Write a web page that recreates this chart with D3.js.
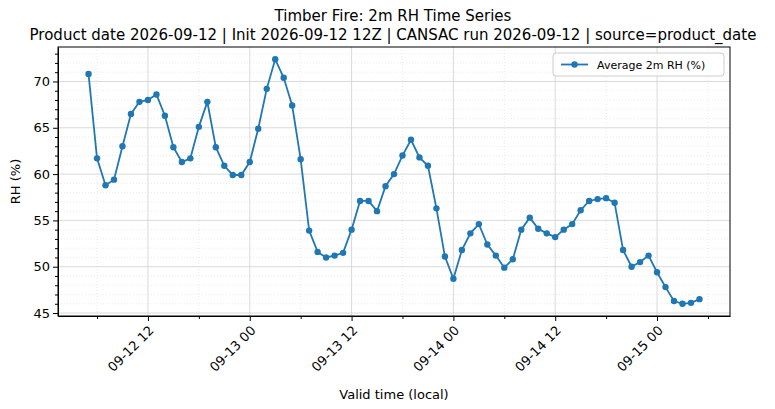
<!DOCTYPE html>
<html><head><meta charset="utf-8">
<script src="https://cdn.jsdelivr.net/npm/d3@7"></script>
<style>body{margin:0;background:#fff}text{font-family:"DejaVu Sans",sans-serif}</style>
</head><body>
<svg width="775" height="409"></svg>
<script>
const startTime = "2026-09-12T05:00";
const rhValues = [
  70.8,61.7,58.8,59.4,63.0,66.5,67.8,68.0,68.6,66.3,
  62.9,61.3,61.7,65.1,67.8,62.9,60.9,59.9,59.9,61.3,
  64.9,69.2,72.4,70.4,67.4,61.6,53.9,51.6,51.0,51.2,
  51.5,54.0,57.1,57.1,56.0,58.7,60.0,62.0,63.7,61.8,
  60.9,56.3,51.1,48.7,51.8,53.6,54.6,52.4,51.2,49.9,
  50.8,54.0,55.3,54.1,53.6,53.2,54.0,54.6,56.1,57.1,
  57.3,57.4,56.9,51.8,50.0,50.5,51.2,49.4,47.8,46.3,
  46.0,46.1,46.5
];
const yTicks = [45, 50, 55, 60, 65, 70];
const titleLines = ["Timber Fire: 2m RH Time Series",
  "Product date 2026-09-12 | Init 2026-09-12 12Z | CANSAC run 2026-09-12 | source=product_date"];

const t0 = new Date(startTime);
const data = rhValues.map((v, i) => ({ t: d3.timeHour.offset(t0, i), v }));

const svg = d3.select("svg"),
    margin = {top: 47, right: 45, bottom: 93, left: 58},
    width = 775 - margin.left - margin.right,
    height = 409 - margin.top - margin.bottom,
    g = svg.append("g").attr("transform", "translate(" + margin.left + "," + margin.top + ")");

const tExt = d3.extent(data, d => d.t), span = tExt[1] - tExt[0];
const x = d3.scaleTime()
    .domain([new Date(+tExt[0] - span * 0.05), new Date(+tExt[1] + span * 0.05)])
    .range([0, width]);
const vExt = d3.extent(rhValues), vs = vExt[1] - vExt[0];
const y = d3.scaleLinear()
    .domain([vExt[0] - vs * 0.05, vExt[1] + vs * 0.05])
    .range([height, 0]);

const majorX = x.ticks(d3.timeHour.every(12));
const minorX = x.ticks(d3.timeHour.every(6)).filter(d => d.getHours() % 12 !== 0);
const minorY = d3.range(45, 74, 1).filter(v => v % 5 !== 0);

// grid
g.selectAll(".gmx").data(minorX).join("line")
    .attr("x1", d => x(d)).attr("x2", d => x(d)).attr("y1", 0).attr("y2", height)
    .attr("stroke", "#ddd").attr("stroke-width", 0.6).attr("stroke-dasharray", "1,2");
g.selectAll(".gmy").data(minorY).join("line")
    .attr("y1", d => y(d)).attr("y2", d => y(d)).attr("x1", 0).attr("x2", width)
    .attr("stroke", "#ddd").attr("stroke-width", 0.6).attr("stroke-dasharray", "1,2");
g.selectAll(".gx").data(majorX).join("line")
    .attr("x1", d => x(d)).attr("x2", d => x(d)).attr("y1", 0).attr("y2", height)
    .attr("stroke", "#d0d0d0").attr("stroke-width", 0.8);
g.selectAll(".gy").data(yTicks).join("line")
    .attr("y1", d => y(d)).attr("y2", d => y(d)).attr("x1", 0).attr("x2", width)
    .attr("stroke", "#d0d0d0").attr("stroke-width", 0.8);

// axes
const fmt = d3.timeFormat("%m-%d %H");
const xAxis = g.append("g").attr("transform", "translate(0," + height + ")")
    .call(d3.axisBottom(x).tickValues(majorX).tickFormat(fmt).tickSize(5).tickSizeOuter(0));
xAxis.selectAll("text").attr("font-size", 13).attr("fill", "#000")
    .attr("text-anchor", "end").attr("x", 0).attr("y", 0).attr("dy", "0.35em")
    .attr("transform", "translate(3,12) rotate(-45)");
g.append("g").attr("transform", "translate(0," + height + ")")
    .call(d3.axisBottom(x).tickValues(minorX).tickFormat("").tickSize(3).tickSizeOuter(0))
    .select(".domain").remove();
const yAxis = g.append("g")
    .call(d3.axisLeft(y).tickValues(yTicks).tickSize(5).tickSizeOuter(0));
yAxis.selectAll("text").attr("font-size", 13).attr("fill", "#000");
g.append("g").call(d3.axisLeft(y).tickValues(minorY).tickFormat("").tickSize(3).tickSizeOuter(0))
    .select(".domain").remove();
g.append("rect").attr("width", width).attr("height", height)
    .attr("fill", "none").attr("stroke", "#000").attr("stroke-width", 1);

// series
const line = d3.line().x(d => x(d.t)).y(d => y(d.v));
g.append("path").datum(data).attr("fill", "none").attr("stroke", "#1f77b4")
    .attr("stroke-width", 1.8).attr("d", line);
g.selectAll(".pt").data(data).join("circle")
    .attr("cx", d => x(d.t)).attr("cy", d => y(d.v)).attr("r", 3.2).attr("fill", "#1f77b4");

// labels
svg.append("text").attr("x", 393).attr("y", 21).attr("text-anchor", "middle")
    .attr("font-size", 15).text(titleLines[0]);
svg.append("text").attr("x", 393).attr("y", 40).attr("text-anchor", "middle")
    .attr("font-size", 15).text(titleLines[1]);
svg.append("text").attr("x", margin.left + width / 2).attr("y", 399).attr("text-anchor", "middle")
    .attr("font-size", 13).text("Valid time (local)");
svg.append("text").attr("transform", "translate(20," + (margin.top + height / 2) + ") rotate(-90)")
    .attr("text-anchor", "middle").attr("font-size", 13).text("RH (%)");

// legend
const lg = g.append("g").attr("transform", "translate(" + (width - 177) + ",6)");
lg.append("rect").attr("width", 171).attr("height", 23).attr("rx", 3)
    .attr("fill", "#fff").attr("fill-opacity", 0.8).attr("stroke", "#ccc");
lg.append("line").attr("x1", 8).attr("x2", 35).attr("y1", 11.5).attr("y2", 11.5)
    .attr("stroke", "#1f77b4").attr("stroke-width", 1.8);
lg.append("circle").attr("cx", 21.5).attr("cy", 11.5).attr("r", 3.2).attr("fill", "#1f77b4");
lg.append("text").attr("x", 44).attr("y", 15.5).attr("font-size", 11).text("Average 2m RH (%)");
</script>
</body></html>
